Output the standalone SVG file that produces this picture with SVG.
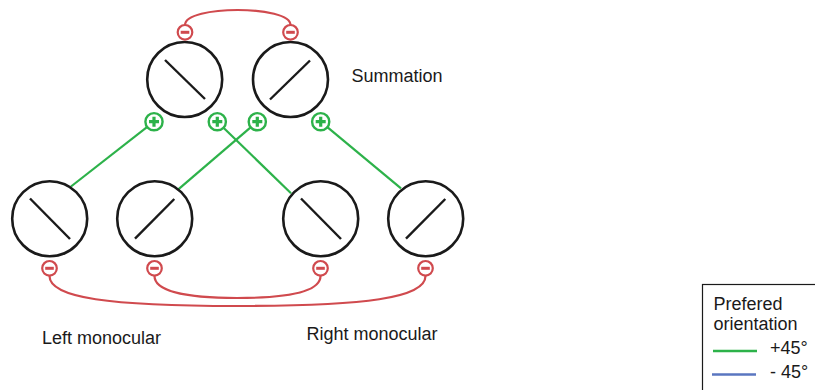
<svg xmlns="http://www.w3.org/2000/svg" width="815" height="390" viewBox="0 0 815 390">
<style>
.cell{fill:#fff;stroke:#1a1a1a;stroke-width:2.6}
.ori{stroke:#1a1a1a;stroke-width:2.4;fill:none}
.exc{stroke:#2db24a;stroke-width:2.2;fill:none}
.inh{stroke:#d04a4e;stroke-width:2.2;fill:none}
.pc{fill:#fff;stroke:#2db24a;stroke-width:2.4}
.pb{stroke:#2db24a;stroke-width:3.2;fill:none}
.mc{fill:#fff;stroke:#d04a4e;stroke-width:2.2}
.mb{stroke:#d04a4e;stroke-width:3;fill:none}
text{font-family:"Liberation Sans",Arial,sans-serif;font-size:18px;fill:#1a1a1a}
</style>
<defs>
<g id="plus"><circle class="pc" r="8.6"/><path class="pb" d="M-5,0H5M0,-5V5"/></g>
<g id="minus"><circle class="mc" r="7.3"/><path class="mb" d="M-4.3,0H4.3"/></g>
</defs>
<g id="connectors">
<path class="inh" d="M185,25 C185,5 290.5,5 290.5,25"/>
<path class="inh" d="M49.5,276 C49.5,298 110,306 237,306 C365,306 425.5,298 425.5,276"/>
<path class="inh" d="M154.5,276 C154.5,291 185,298 237,298 C290,298 320.5,291 320.5,276"/>
<path class="exc" d="M154,121.7 L71,186.5"/>
<path class="exc" d="M217.3,121.7 L291,193.3"/>
<path class="exc" d="M257.3,121.7 L178.3,189.3"/>
<path class="exc" d="M320.7,121.7 L401,188.3"/>
</g>
<g id="sum-left">
<circle class="cell" cx="184.7" cy="79.5" r="37.5"/>
<path class="ori" d="M165,60 L205,99"/>
<use href="#minus" x="185" y="32.3"/>
<use href="#plus" x="154" y="121.7"/>
<use href="#plus" x="217.3" y="121.7"/>
</g>
<g id="sum-right">
<circle class="cell" cx="290.5" cy="79.5" r="37.5"/>
<path class="ori" d="M270,99.5 L310,60.5"/>
<use href="#minus" x="290.5" y="32.3"/>
<use href="#plus" x="257.3" y="121.7"/>
<use href="#plus" x="320.7" y="121.7"/>
</g>
<g id="left-1">
<circle class="cell" cx="49.7" cy="218.7" r="37.5"/>
<path class="ori" d="M30,198.5 L70,239"/>
<use href="#minus" x="49.5" y="268.3"/>
</g>
<g id="left-2">
<circle class="cell" cx="154.7" cy="218.7" r="37.5"/>
<path class="ori" d="M135,238.7 L174.3,199"/>
<use href="#minus" x="154.5" y="268.3"/>
</g>
<g id="right-1">
<circle class="cell" cx="320.7" cy="218.7" r="37.5"/>
<path class="ori" d="M301,198.5 L341,239"/>
<use href="#minus" x="320.5" y="268.3"/>
</g>
<g id="right-2">
<circle class="cell" cx="425.7" cy="218.7" r="37.5"/>
<path class="ori" d="M406,238.7 L445.3,199"/>
<use href="#minus" x="425.5" y="268.3"/>
</g>
<g id="labels">
<text x="351.5" y="82.3">Summation</text>
<text x="42" y="344">Left monocular</text>
<text x="306.5" y="340">Right monocular</text>
</g>
<g id="legend">
<rect x="702.5" y="284.5" width="120" height="120" fill="#fff" stroke="#1a1a1a" stroke-width="1.2"/>
<text x="713.5" y="310">Prefered</text>
<text x="713.5" y="330">orientation</text>
<path d="M713,351H757" stroke="#2db24a" stroke-width="2.4"/>
<text x="770" y="353.5">+45°</text>
<path d="M712,374.5H756" stroke="#5a76c0" stroke-width="2.4"/>
<text x="770" y="377.7">- 45°</text>
</g>
</svg>
